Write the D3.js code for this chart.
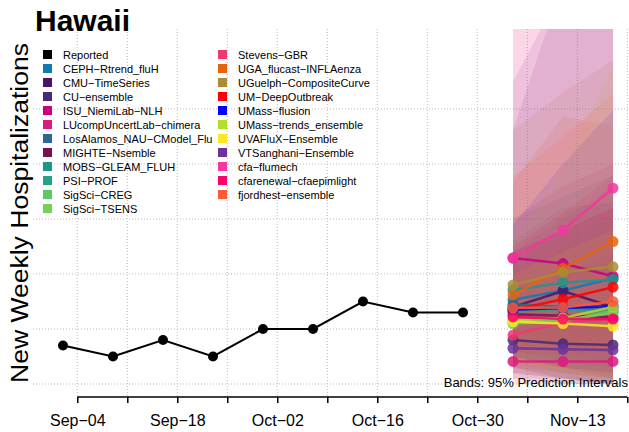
<!DOCTYPE html>
<html lang="en">
<head>
<meta charset="UTF-8">
<title>Hawaii</title>
<style>
  body { margin: 0; background: #fff; }
  svg { display: block; font-family: "Liberation Sans", Arial, sans-serif; }
  .grid line { stroke: #bdbdbd; stroke-dasharray: 1,2; }
</style>
</head>
<body>
<script src="https://d3js.org/d3.v7.min.js"></script>
<script>
// observed weekly hospitalizations
const reportedDates = ["2023-09-02", "2023-09-09", "2023-09-16", "2023-09-23", "2023-09-30",
                       "2023-10-07", "2023-10-14", "2023-10-21", "2023-10-28"];
const reportedValues = [7, 5, 8, 5, 10, 10, 15, 13, 13];

// forecast target dates
const forecastDates = ["2023-11-04", "2023-11-11", "2023-11-18"];

const models = ["CEPH−Rtrend_fluH", "CMU−TimeSeries", "CU−ensemble", "ISU_NiemiLab−NLH",
  "LUcompUncertLab−chimera", "LosAlamos_NAU−CModel_Flu", "MIGHTE−Nsemble", "MOBS−GLEAM_FLUH",
  "PSI−PROF", "SigSci−CREG", "SigSci−TSENS", "Stevens−GBR", "UGA_flucast−INFLAenza",
  "UGuelph−CompositeCurve", "UM−DeepOutbreak", "UMass−flusion", "UMass−trends_ensemble",
  "UVAFluX−Ensemble", "VTSanghani−Ensemble", "cfa−flumech", "cfarenewal−cfaepimlight",
  "fjordhest−ensemble"];

const modelColors = ["#0c7cb2", "#48146a", "#482878", "#c80082", "#de1880", "#2d698c",
  "#781055", "#1e968c", "#20a387", "#5ec862", "#7ad151", "#f03870", "#e6640a", "#aa8c32",
  "#ff0000", "#0000ff", "#b4de2c", "#fde725", "#6a329a", "#f537a0", "#ff0066", "#ff5a32"];

// median forecasts, one row per model
const medians = [
  [15.3, 17.0, 19.2], [14.0, 16.9, 14.0], [8.0, 7.3, 7.1], [22.9, 21.9, 19.6],
  [4.1, 4.1, 4.1], [14.5, 14.0, 13.5], [12.7, 12.4, 12.2], [17.1, 18.4, 19.0],
  [13.2, 13.6, 13.0], [11.0, 11.3, 13.4], [11.5, 11.6, 12.9], [8.9, 11.2, 11.8],
  [16.2, 21.0, 25.9], [18.0, 20.3, 21.3], [13.5, 15.4, 17.6], [13.5, 13.8, 14.2],
  [11.6, 12.0, 14.0], [11.3, 11.0, 10.5], [6.5, 6.3, 6.2], [22.9, 28.0, 35.6],
  [12.2, 11.8, 11.8], [13.8, 13.9, 15.0]];

// 95% prediction interval bounds
const lower95 = [
  [6, 4, 3], [5, 3, 1], [2, 1, 0], [10, 6, 3], [0, 0, 0], [4, 2, 1], [3, 1, 0], [6, 5, 4],
  [5, 3, 2], [3, 1, 0], [4, 2, 1], [1, 1, 0], [6, 6, 7], [7, 6, 5], [3, 2, 1], [5, 3, 2],
  [2, 0, 0], [4, 2, 1], [1, 0, 0], [6, 5, 4], [2, 1, 0], [4, 3, 2]];
const upper95 = [
  [24, 30, 36], [26, 32, 33], [16, 20, 24], [30, 36, 40], [10, 12, 14], [24, 28, 32],
  [46.2, 73, 100], [30, 34, 38], [22, 27, 31], [20, 25, 30], [19, 23, 27], [70, 100, 130],
  [36.8, 48.6, 47], [46.2, 53, 58.9], [25, 31, 38], [28.9, 40, 49.8], [26, 39, 58],
  [20, 24, 28], [55, 72, 90], [80, 115, 150], [24, 28, 32], [37.7, 45, 52.8]];

const tickDates = ["2023-09-04", "2023-09-11", "2023-09-18", "2023-09-25", "2023-10-02",
  "2023-10-09", "2023-10-16", "2023-10-23", "2023-10-30", "2023-11-06", "2023-11-13", "2023-11-20"];
const tickLabels = ["Sep−04", "", "Sep−18", "", "Oct−02", "", "Oct−16", "", "Oct−30", "", "Nov−13", ""];
const gridValues = [0, 10, 20, 30, 40, 50];

const width = 629, height = 432;
const parse = d3.utcParse("%Y-%m-%d");

const x = d3.scaleUtc()
  .domain([parse("2023-09-02"), parse("2023-11-18")])
  .range([63, 613]);
const y = d3.scaleLinear().domain([0, 50]).range([384, 109]);

const plot = {left: 33, right: 629, top: 29, bottom: 397};

const svg = d3.select("body").append("svg")
  .attr("width", width).attr("height", height);

svg.append("defs").append("clipPath").attr("id", "plotclip")
  .append("rect")
  .attr("x", plot.left).attr("y", plot.top)
  .attr("width", plot.right - plot.left).attr("height", plot.bottom - plot.top);

// grid
const grid = svg.append("g").attr("class", "grid");
grid.selectAll(".v").data(tickDates).enter().append("line")
  .attr("x1", d => x(parse(d))).attr("x2", d => x(parse(d)))
  .attr("y1", plot.top).attr("y2", plot.bottom);
grid.selectAll(".h").data(gridValues).enter().append("line")
  .attr("x1", plot.left).attr("x2", plot.right)
  .attr("y1", d => y(d)).attr("y2", d => y(d));

// bands
const fDates = forecastDates.map(parse);
const bandArea = d3.area()
  .x(d => x(d.date)).y0(d => y(d.lo)).y1(d => y(d.hi));

const bands = svg.append("g").attr("clip-path", "url(#plotclip)");
models.forEach((m, i) => {
  const pts = fDates.map((dt, j) => ({date: dt, lo: lower95[i][j], hi: upper95[i][j]}));
  bands.append("path")
    .attr("d", bandArea(pts))
    .attr("fill", modelColors[i])
    .attr("fill-opacity", 0.11);
});

// reported
const line = d3.line().x(d => x(d.date)).y(d => y(d.v));
const rep = reportedDates.map((d, i) => ({date: parse(d), v: reportedValues[i]}));
svg.append("path").attr("d", line(rep))
  .attr("fill", "none").attr("stroke", "#000").attr("stroke-width", 2);
svg.selectAll(".rep").data(rep).enter().append("circle")
  .attr("cx", d => x(d.date)).attr("cy", d => y(d.v)).attr("r", 5).attr("fill", "#000");

// forecasts
const fc = svg.append("g").attr("clip-path", "url(#plotclip)");
models.forEach((m, i) => {
  const pts = fDates.map((dt, j) => ({date: dt, v: medians[i][j]}));
  const g = fc.append("g").attr("opacity", 0.85);
  g.append("path").attr("d", line(pts))
    .attr("fill", "none").attr("stroke", modelColors[i]).attr("stroke-width", 2.5);
  g.selectAll("circle").data(pts).enter().append("circle")
    .attr("cx", d => x(d.date)).attr("cy", d => y(d.v)).attr("r", 5.5)
    .attr("fill", modelColors[i]);
});

// x axis
const axis = d3.axisBottom(x)
  .tickValues(tickDates.map(parse))
  .tickFormat((d, i) => tickLabels[i])
  .tickSize(6).tickPadding(12);
const ax = svg.append("g").attr("transform", `translate(0,${plot.bottom})`).call(axis);
ax.select(".domain").remove();
ax.append("line")
  .attr("x1", x(parse(tickDates[0]))).attr("x2", x(parse(tickDates[tickDates.length - 1])))
  .attr("stroke", "#000").attr("stroke-width", 1.5);
ax.selectAll(".tick line").attr("stroke-width", 1.5);
ax.selectAll(".tick text")
  .attr("font-family", "Liberation Sans, Arial, sans-serif")
  .attr("font-size", 16).attr("fill", "#000");

// legend
const legendItems = [{name: "Reported", color: "#000"}]
  .concat(models.map((m, i) => ({name: m, color: modelColors[i]})));
const perCol = 12;
const legend = svg.append("g");
legendItems.forEach((d, i) => {
  const col = Math.floor(i / perCol), row = i % perCol;
  const lx = col === 0 ? 43 : 218;
  const ly = 54.5 + row * 14;
  legend.append("rect").attr("x", lx).attr("y", ly - 4.5)
    .attr("width", 9).attr("height", 9).attr("fill", d.color);
  legend.append("text").attr("x", lx + 20).attr("y", ly + 4)
    .attr("font-size", 11).attr("fill", "#000").text(d.name);
});

// titles
svg.append("text").attr("x", 35).attr("y", 31)
  .attr("font-size", 30).attr("font-weight", "bold").text("Hawaii");

svg.append("text")
  .attr("transform", "translate(28,213) rotate(-90)")
  .attr("text-anchor", "middle")
  .attr("font-size", 23.5)
  .attr("textLength", 340).attr("lengthAdjust", "spacingAndGlyphs")
  .text("New Weekly Hospitalizations");

svg.append("text").attr("x", 628).attr("y", 386.5)
  .attr("text-anchor", "end").attr("font-size", 13)
  .text("Bands: 95% Prediction Intervals");
</script>
</body>
</html>
